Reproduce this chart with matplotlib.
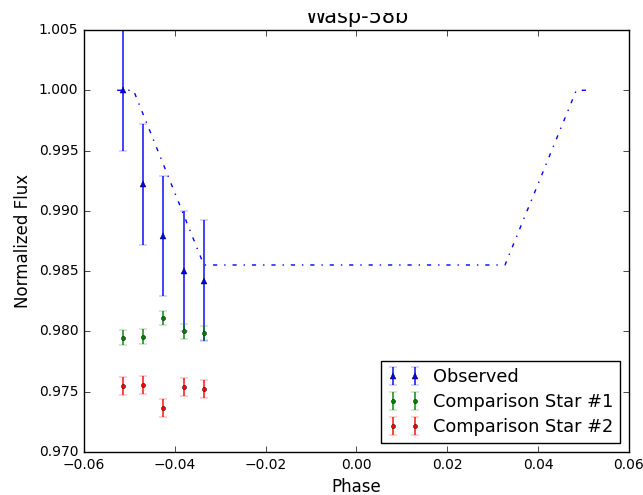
import matplotlib
matplotlib.use("Agg")
import matplotlib.pyplot as plt
from matplotlib.patches import Rectangle

plt.style.use('classic')

# Data
phase = [-0.0514, -0.0470, -0.0426, -0.0380, -0.0336]
obs_flux = [1.0000, 0.9922, 0.9879, 0.9850, 0.9842]
obs_err = [0.0050, 0.0050, 0.0050, 0.0050, 0.0050]
comp1_flux = [0.97948, 0.97956, 0.9811, 0.9800, 0.97987]
comp1_err = [0.0006, 0.0006, 0.0006, 0.0006, 0.0006]
comp2_flux = [0.97550, 0.97558, 0.97362, 0.97537, 0.97523]
comp2_err = [0.00075, 0.00075, 0.00075, 0.00075, 0.00075]
model_phase = [-0.0527, -0.0491, -0.0336, 0.0327, 0.0484, 0.0511]
model_flux = [1.0000, 1.0000, 0.98551, 0.98551, 1.0000, 1.0000]

fig = plt.figure(figsize=(6.43, 4.95), dpi=100, facecolor='white')
ax = fig.add_axes([0.1306, 0.0869, 0.8476, 0.8525])
ax.set_facecolor('white')

ax.plot(model_phase, model_flux, '-.', color='b', lw=1.0)
ax.errorbar(phase, obs_flux, yerr=obs_err, fmt='^', color='b', ecolor=(0, 0, 1, 0.8),
            mec='k', mew=0.3, ms=5, capsize=3, elinewidth=1.3, capthick=1.0, label='Observed')
ax.errorbar(phase, comp1_flux, yerr=comp1_err, fmt='.', color='g', ecolor=(0, 0.5, 0, 0.85),
            mec='k', mew=0.3, ms=6, capsize=3, elinewidth=1.2, capthick=1.0, label='Comparison Star #1')
ax.errorbar(phase, comp2_flux, yerr=comp2_err, fmt='.', color='r', ecolor=(1, 0, 0, 0.85),
            mec='k', mew=0.3, ms=6, capsize=3, elinewidth=1.2, capthick=1.0, label='Comparison Star #2')

ax.set_xlim(-0.06, 0.06)
ax.set_ylim(0.970, 1.005)
ax.set_xticks([-0.06, -0.04, -0.02, 0.00, 0.02, 0.04, 0.06])
ax.set_yticks([0.970, 0.975, 0.980, 0.985, 0.990, 0.995, 1.000, 1.005])
ax.set_xticklabels(['\u22120.06', '\u22120.04', '\u22120.02', '0.00', '0.02', '0.04', '0.06'])
ax.set_yticklabels(['0.970', '0.975', '0.980', '0.985', '0.990', '0.995', '1.000', '1.005'])
ax.tick_params(labelsize=10, direction='in', top=True, right=True)
ax.set_xlabel('Phase', fontsize=12)
ax.set_ylabel('Normalized Flux', fontsize=12)
ax.set_title('Wasp-58b', fontsize=15)
leg = ax.legend(loc='lower right', numpoints=2, fontsize=12.8, frameon=True,
                labelspacing=0.38, handlelength=1.8, handletextpad=0.7)
leg.get_frame().set_edgecolor('black')

fig.patches.append(Rectangle((0, 1 - 13 / 495), 1, 13 / 495, transform=fig.transFigure,
                             facecolor='white', edgecolor='none', zorder=10))

fig.savefig('out.png', dpi=100, facecolor='white')
